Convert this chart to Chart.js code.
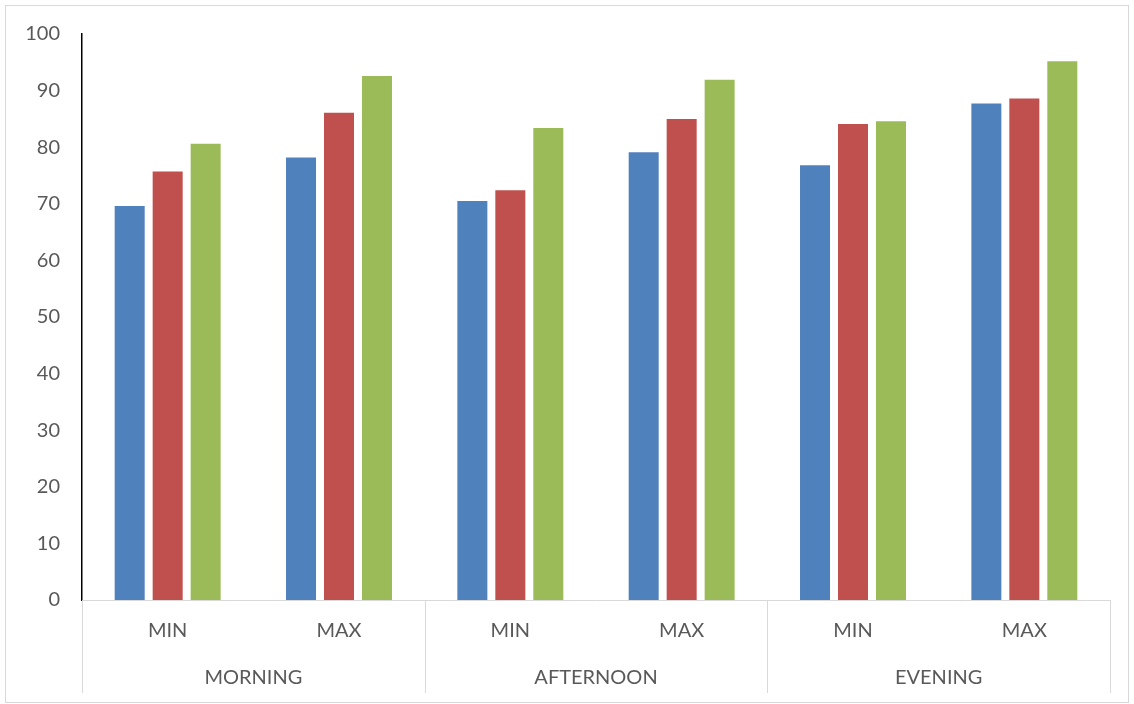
<!DOCTYPE html>
<html>
<head>
<meta charset="utf-8">
<script src="https://cdn.jsdelivr.net/npm/chart.js@4/dist/chart.umd.min.js"></script>
<style>
  html, body { margin: 0; padding: 0; background: #fff; }
  #wrap { width: 1134px; height: 704px; }
</style>
</head>
<body>
<div id="wrap"><canvas id="chart" width="1134" height="704"></canvas></div>
<script>
  // categories
  const subLabels = ["MIN", "MAX", "MIN", "MAX", "MIN", "MAX"];
  const groupLabels = ["MORNING", "AFTERNOON", "EVENING"];

  // series values
  const blueValues = [69.6, 78.2, 70.5, 79.1, 76.8, 87.7];
  const redValues = [75.7, 86.1, 72.4, 85.0, 84.1, 88.6];
  const greenValues = [80.6, 92.6, 83.4, 91.9, 84.6, 95.2];

  const yTicks = [0, 10, 20, 30, 40, 50, 60, 70, 80, 90, 100];

  const textColor = "#595959";
  const lineGray = "#d9d9d9";
  const fontFamily = "Lato, 'Open Sans', sans-serif";
  const fontSize = 20;

  // draws the outer frame and the group divider lines under the category rows
  const framePlugin = {
    id: "frame",
    afterDraw(chart) {
      const ctx = chart.ctx;
      const x = chart.scales.x;
      ctx.save();
      ctx.strokeStyle = lineGray;
      ctx.lineWidth = 1;
      ctx.strokeRect(5.5, 5.5, 1123, 697);

      // divider positions: left edge, between each pair, right edge
      const bounds = [x.left];
      for (let i = 1; i < groupLabels.length; i++) {
        const idx = i * 2;
        bounds.push((x.getPixelForValue(idx - 1) + x.getPixelForValue(idx)) / 2);
      }
      bounds.push(x.right);
      ctx.beginPath();
      bounds.forEach(px => {
        const p = Math.round(px) + 0.5;
        ctx.moveTo(p, x.top);
        ctx.lineTo(p, 693);
      });
      ctx.stroke();
      ctx.restore();
    }
  };

  const ctx = document.getElementById("chart").getContext("2d");
  new Chart(ctx, {
    type: 'bar',
    data: {
      labels: subLabels,
      datasets: [
        { label: 'Series 1', data: blueValues, backgroundColor: '#4F81BD' },
        { label: 'Series 2', data: redValues, backgroundColor: '#C0504D' },
        { label: 'Series 3', data: greenValues, backgroundColor: '#9BBB59' }
      ]
    },
    options: {
      responsive: false,
      animation: false,
      categoryPercentage: 0.665,
      barPercentage: 0.79,
      layout: { padding: { left: 0, top: 34, right: 24, bottom: 0 } },
      plugins: {
        legend: { display: false },
        tooltip: { enabled: false }
      },
      scales: {
        y: {
          min: 0,
          max: 100,
          afterBuildTicks: scale => { scale.ticks = yTicks.map(v => ({ value: v })); },
          afterFit: scale => { scale.width = 82; },
          grid: { display: false, drawTicks: false },
          border: { display: true, color: '#000', width: 1.5 },
          ticks: { padding: 22, color: textColor, font: { family: fontFamily, size: fontSize } }
        },
        x: {
          afterFit: scale => { scale.height = 50; },
          grid: { display: false, drawTicks: false },
          border: { display: true, color: lineGray, width: 1 },
          ticks: { padding: 19, color: textColor, font: { family: fontFamily, size: fontSize }, maxRotation: 0 }
        },
        group: {
          type: 'category',
          position: 'bottom',
          labels: groupLabels,
          offset: true,
          afterFit: scale => { scale.height = 54; },
          grid: { display: false, drawTicks: false },
          border: { display: false },
          ticks: { padding: 16, color: textColor, font: { family: fontFamily, size: fontSize }, maxRotation: 0 }
        }
      }
    },
    plugins: [framePlugin]
  });
</script>
</body>
</html>
